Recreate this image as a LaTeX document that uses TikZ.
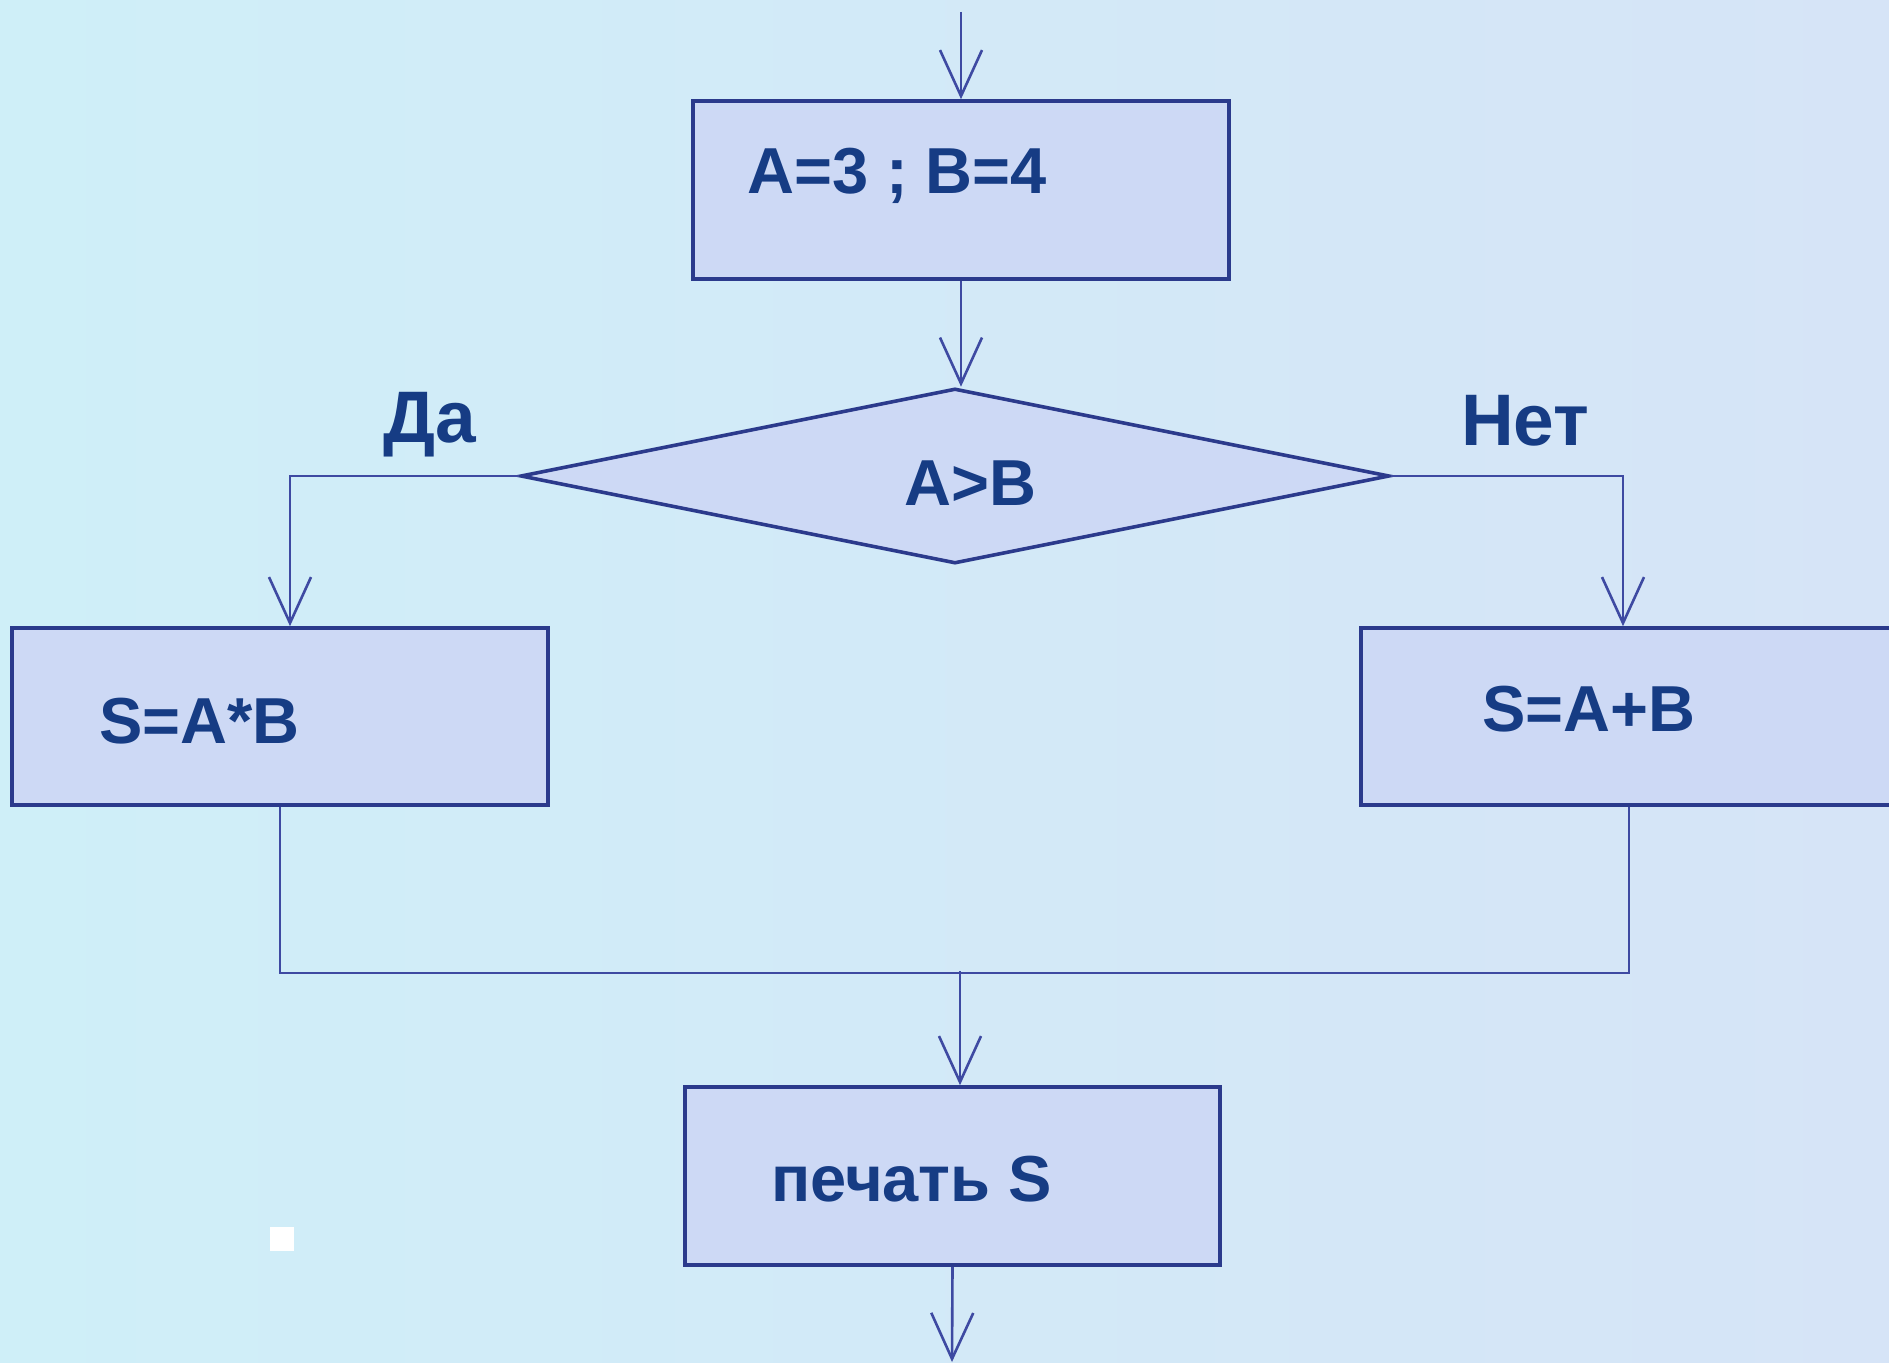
\documentclass[tikz,border=0pt]{standalone}
\usepackage{fontspec}
\setmainfont{Liberation Sans}
\usetikzlibrary{shapes.geometric,arrows.meta}
\definecolor{bgA}{HTML}{CFEFF8}
\definecolor{bgB}{HTML}{D6E4F7}
\definecolor{boxfill}{HTML}{CDD9F5}
\definecolor{linec}{HTML}{2B3A8C}
\definecolor{arrc}{HTML}{3E4AA2}
\definecolor{txt}{HTML}{163C84}
\tikzset{
  box/.style={draw=linec, line width=3.6pt, fill=boxfill, inner sep=0pt},
  conn/.style={draw=arrc, line width=2.6pt},
  arr/.style={conn, -{Straight Barb[length=46pt,width=42pt,line width=2.6pt]}},
  lbl/.style={text=txt, font=\fontsize{65}{70}\selectfont\bfseries, inner sep=0pt, anchor=base west},
  yn/.style={lbl, font=\fontsize{73}{80}\selectfont\bfseries}
}
\begin{document}
\begin{tikzpicture}[x=1pt,y=-1pt]
\useasboundingbox (0,0) rectangle (1889,1362);
\clip (0,0) rectangle (1889,1362);
\shade[left color=bgA, right color=bgB] (0,0) rectangle (1889,1362);

% boxes
\node[box, minimum width=536pt, minimum height=178pt] (b1) at (961,190) {};
\node[box, diamond, minimum width=869pt, minimum height=175pt] (dia) at (955,476) {};
\node[box, minimum width=536pt, minimum height=177pt] (lb) at (280,716.5) {};
\node[box, minimum width=536pt, minimum height=177pt] (rb) at (1629,716.5) {};
\node[box, minimum width=535pt, minimum height=178pt] (bb) at (952.5,1176) {};

% texts
\node[lbl] (t1) at (747,193) {A=3 ; B=4};
\node[lbl] (t2) at (904,505) {A>B};
\node[lbl] (t3) at (99,743) {S=A*B};
\node[lbl] (t4) at (1482,731) {S=A+B};
\node[lbl] (t5) at (771,1201) {печать S};
\node[yn] (yes) at (383,442) {Да};
\node[yn] (no) at (1461,445) {Нет};

% white mark
\fill[white] (270,1227) rectangle (294,1251);

% connectors
\coordinate (start) at (961,12);
\coordinate (m) at (960,971);
\coordinate (fin) at (952,1362);
\draw[arr] (start) -- (b1.north);
\draw[arr] (b1.south) -- (b1.south |- dia.north);
\draw[arr] (dia.west) -| ([xshift=10pt]lb.north);
\draw[arr] (dia.east) -| ([xshift=-6pt]rb.north);
\draw[conn] (lb.south) -- ++(0,166) -| (rb.south);
\draw[arr] (m) -- (m |- bb.north);
\draw[arr] (bb.south) -- (fin);
\end{tikzpicture}
\end{document}
